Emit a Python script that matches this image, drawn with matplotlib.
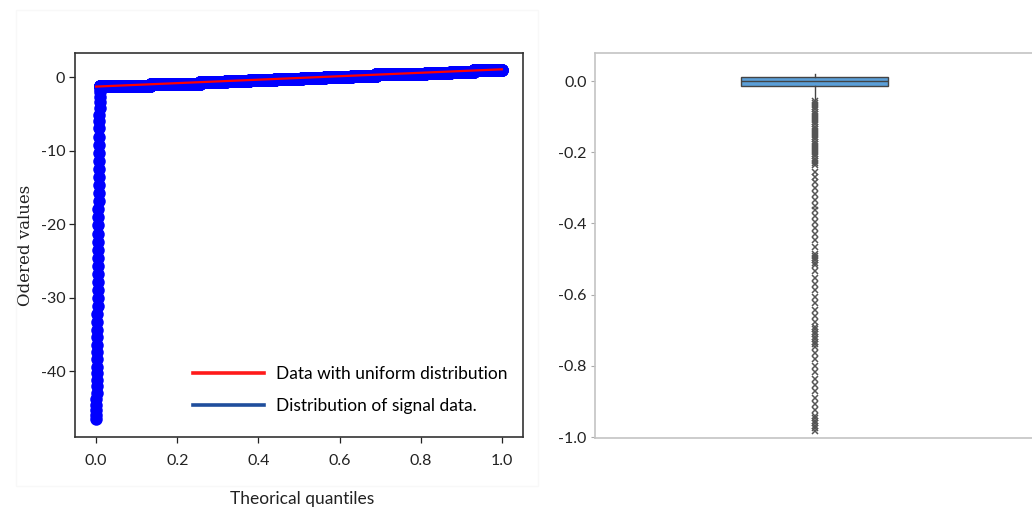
import numpy as np
import matplotlib
matplotlib.use("Agg")
import matplotlib.pyplot as plt
from matplotlib.lines import Line2D
from matplotlib.patches import Rectangle

# ---- Q-Q plot data -------------------------------------------------------
# lower tail of the signal (ordered values that sit at the very first quantiles)
tail_values = [
    -46.5, -46.0, -45.3, -44.6, -43.8, -43.0, -42.1, -41.2, -40.3, -39.4,
    -38.4, -37.4, -36.4, -35.4, -34.4, -33.4, -32.3, -31.2, -30.1, -29.0,
    -27.9, -26.8, -25.7, -24.6, -23.5, -22.4, -21.3, -20.2, -19.1, -18.0,
    -16.9, -15.8, -14.7, -13.6, -12.5, -11.4, -10.3, -9.2, -8.1, -7.0,
    -6.0, -5.1, -4.2, -3.4, -2.7, -2.1, -1.6,
]
# bulk of the signal: quantised levels and how many samples sit on each
bulk_levels = [-1.2, -0.9, -0.65, -0.5, -0.36, -0.22, -0.08, 0.06, 0.2, 0.4, 0.6, 0.74, 0.9]
bulk_counts = [630, 615, 320, 295, 320, 330, 285, 335, 305, 615, 310, 290, 350]
# reference line of the uniform distribution
ref_quantiles = [0.0, 1.0]
ref_values = [-1.3, 1.05]

# ---- box plot data -------------------------------------------------------
box_q1, box_median, box_q3 = -0.014, 0.0, 0.011
whisker_low, whisker_high = -0.052, 0.021
flier_values = [
    # dense run just below the lower whisker
    -0.056, -0.062, -0.068, -0.074, -0.080, -0.086, -0.092, -0.098, -0.104, -0.110,
    -0.116, -0.122, -0.128, -0.134, -0.140, -0.146, -0.152, -0.158, -0.164, -0.170,
    -0.176, -0.182, -0.188, -0.194, -0.200, -0.206, -0.212, -0.218, -0.224, -0.230,
    -0.236,
    # sparser middle section
    -0.255, -0.270, -0.284, -0.300, -0.318, -0.335, -0.350, -0.362, -0.378, -0.395,
    -0.412, -0.430, -0.448, -0.465,
    # cluster around -0.5
    -0.485, -0.492, -0.498, -0.504, -0.510, -0.518,
    -0.535, -0.552, -0.570, -0.588, -0.606, -0.624, -0.642, -0.660, -0.676,
    # cluster around -0.72
    -0.690, -0.697, -0.704, -0.711, -0.718, -0.725, -0.732, -0.740, -0.748,
    -0.765, -0.782, -0.800, -0.818, -0.836, -0.854, -0.872, -0.890, -0.908, -0.925,
    # bottom cluster
    -0.940, -0.948, -0.955, -0.962, -0.969, -0.976, -0.982,
]

plt.rcParams["font.family"] = ["Lato", "DejaVu Sans"]

fig = plt.figure(figsize=(10.32, 5.08), dpi=100)
fig.patch.set_facecolor("white")

# faint panel outline behind the Q-Q plot
fig.patches.append(Rectangle((16 / 1032, 1 - 486 / 508), (538 - 16) / 1032, (486 - 10) / 508,
                             transform=fig.transFigure, facecolor="none",
                             edgecolor="#f8f8f8", linewidth=1.0, zorder=0))

# ---------------- left: Q-Q plot ----------------
ax1 = fig.add_axes([75 / 1032, 1 - 437 / 508, (523 - 75) / 1032, (437 - 53) / 508])
ordered = np.concatenate([np.array(tail_values), np.repeat(bulk_levels, bulk_counts)])
n = ordered.size
theoretical = (np.arange(n) + 0.5) / n
ax1.plot(theoretical, ordered, "o", color="#0000ff", markersize=9, markeredgewidth=0,
         zorder=2)
ax1.plot(ref_quantiles, ref_values, color="#ff0000", linewidth=1.6, zorder=3)

ax1.set_xlim(-0.052, 1.052)
ax1.set_ylim(-48.98, 3.27)
ax1.set_xticks([0.0, 0.2, 0.4, 0.6, 0.8, 1.0])
ax1.set_yticks([0, -10, -20, -30, -40])
ax1.set_xticklabels(["0.0", "0.2", "0.4", "0.6", "0.8", "1.0"])
ax1.set_yticklabels(["0", "-10", "-20", "-30", "-40"])
ax1.tick_params(axis="both", labelsize=11.5, colors="#222222", length=4, width=0.9,
                direction="out")
ax1.tick_params(axis="x", pad=8)
ax1.tick_params(axis="y", pad=3)
for sp in ax1.spines.values():
    sp.set_color("#333333")
    sp.set_linewidth(1.2)

ax1.set_ylabel("Odered values", family=["DejaVu Serif"], fontsize=12, color="#222222",
               labelpad=5)
fig.text(302 / 1032, 1 - 499 / 508, "Theorical quantiles", fontsize=12.5, color="#222222",
         ha="center", va="center")

handles = [Line2D([], [], color="#ff1a1a", linewidth=2.6),
           Line2D([], [], color="#1f4e9c", linewidth=2.6)]
ax1.legend(handles, ["Data with uniform distribution", "Distribution of signal data."],
           loc="lower right", bbox_to_anchor=(1.0, 0.02), frameon=False, fontsize=12.5,
           handlelength=4.1, labelspacing=0.9, handletextpad=0.7)

# ---------------- right: box plot ----------------
ax2 = fig.add_axes([595 / 1032, 1 - 438 / 508, (1034 - 595) / 1032, (438 - 53) / 508])
stats = [{
    "med": box_median, "q1": box_q1, "q3": box_q3,
    "whislo": whisker_low, "whishi": whisker_high,
    "fliers": np.array(flier_values),
}]
ax2.bxp(stats, positions=[1], widths=0.336, patch_artist=True, showcaps=False,
        boxprops=dict(facecolor="#5b9fd8", edgecolor="#444444", linewidth=1.0),
        medianprops=dict(color="#444444", linewidth=1.0),
        whiskerprops=dict(color="#444444", linewidth=1.0),
        flierprops=dict(marker="x", markersize=5, markeredgecolor="#555555",
                        markeredgewidth=1.1, linestyle="none"))
ax2.set_xlim(0.5, 1.5)
ax2.set_ylim(-1.0028, 0.0787)
ax2.set_xticks([])
ax2.set_yticks([0.0, -0.2, -0.4, -0.6, -0.8, -1.0])
ax2.set_yticklabels(["0.0", "-0.2", "-0.4", "-0.6", "-0.8", "-1.0"])
ax2.tick_params(axis="y", labelsize=11.5, colors="#222222", length=3, width=0.8,
                color="#aaaaaa", pad=3)
for sp in ax2.spines.values():
    sp.set_color("#c4c4c4")
    sp.set_linewidth(1.2)

fig.savefig("out.png", dpi=100, facecolor="white")
